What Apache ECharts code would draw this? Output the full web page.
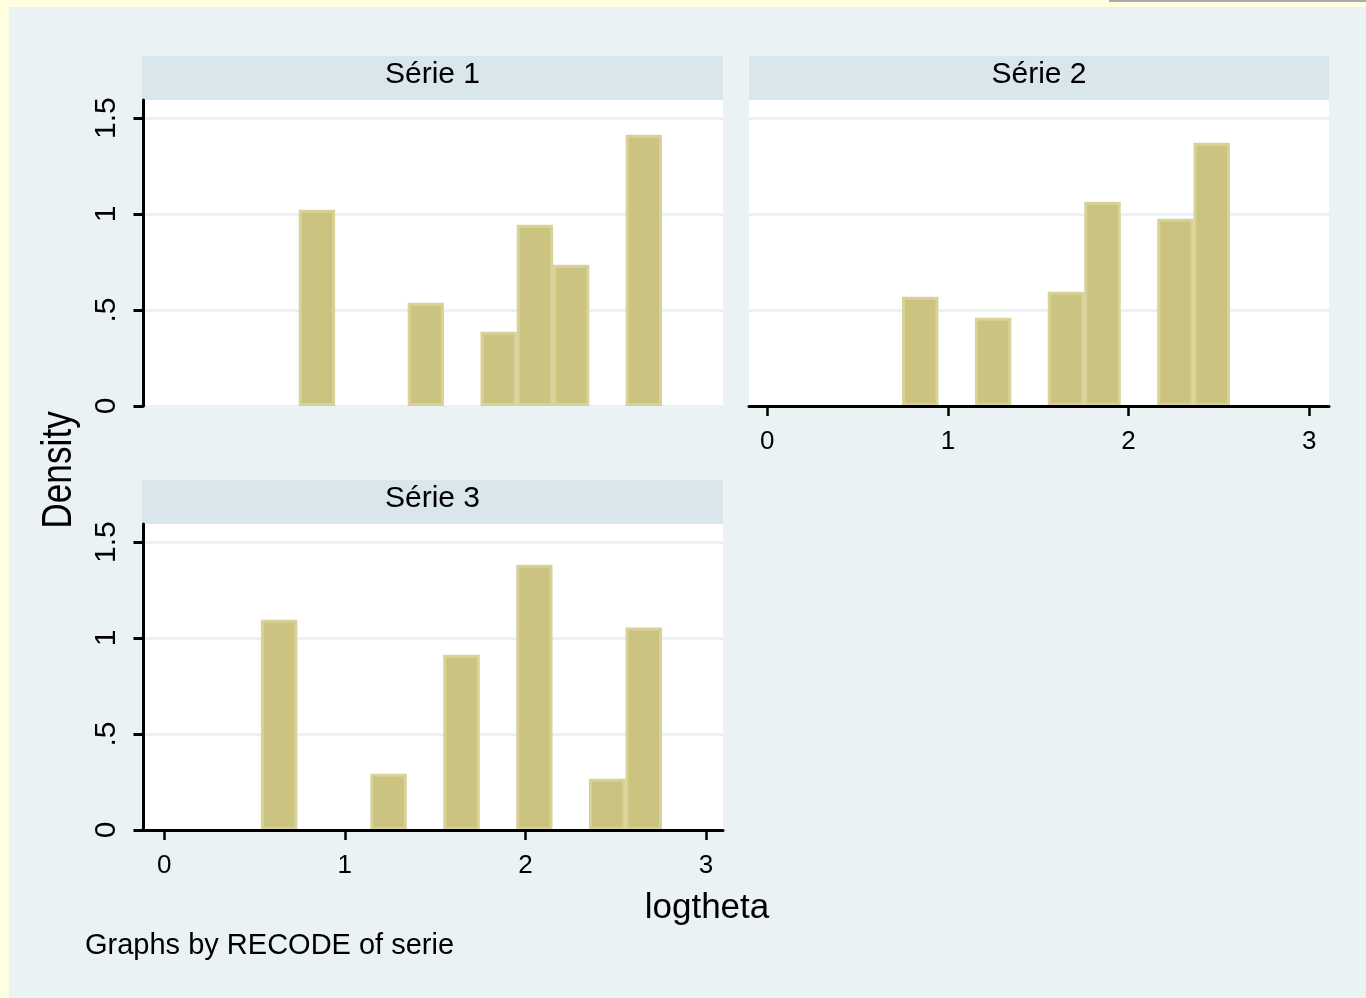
<!DOCTYPE html>
<html>
<head>
<meta charset="utf-8">
<script src="https://cdn.jsdelivr.net/npm/echarts@6/dist/echarts.min.js"></script>
<style>
html,body{margin:0;padding:0;background:#EAF2F3;}
#c{width:1366px;height:998px;}
</style>
</head>
<body>
<div id="c"></div>
<script>
// ---- data ----
const panelTitles = ['Série 1', 'Série 2', 'Série 3'];

// histogram bins (lower edge, upper edge, density) per series
const s1Lo  = [0.745, 1.348, 1.751, 1.952, 2.153, 2.555];
const s1Hi  = [0.946, 1.549, 1.952, 2.153, 2.354, 2.756];
const s1Den = [1.022, 0.538, 0.387, 0.944, 0.736, 1.413];

const s2Lo  = [0.746, 1.150, 1.553, 1.755, 2.159, 2.360];
const s2Hi  = [0.948, 1.351, 1.755, 1.957, 2.360, 2.562];
const s2Den = [0.569, 0.460, 0.595, 1.064, 0.975, 1.371];

const s3Lo  = [0.535, 1.141, 1.545, 1.949, 2.352, 2.554];
const s3Hi  = [0.737, 1.343, 1.747, 2.150, 2.554, 2.756];
const s3Den = [1.095, 0.293, 0.913, 1.382, 0.267, 1.055];

const yTicks = [0, 0.5, 1, 1.5];
const yTickLabels = ['0', '.5', '1', '1.5'];
const xTicks = [0, 1, 2, 3];
const xTickLabels = ['0', '1', '2', '3'];

const yTitle = 'Density';
const xTitle = 'logtheta';
const noteText = 'Graphs by RECODE of serie';

// ---- styling ----
const FONT = '"Liberation Sans", Arial, sans-serif';
const BG = '#EAF2F3';
const STRIP = '#D9E6EB';
const BAR_FILL = '#CBC480';
const BAR_LINE = '#D8D198';

const rows = (lo, hi, den) => lo.map((v, k) => [v, hi[k], den[k]]);
const seriesRows = [rows(s1Lo, s1Hi, s1Den), rows(s2Lo, s2Hi, s2Den), rows(s3Lo, s3Hi, s3Den)];

// panel boxes (layout)
const panels = [
  {left: 143.5, top: 100, width: 579.5, height: 306, xmin: -0.115, xmax: 3.094, showX: false, showY: true, stripLeft: 142, stripTop: 56, stripW: 581},
  {left: 749,   top: 100, width: 580,   height: 306, xmin: -0.101, xmax: 3.110, showX: true,  showY: false, stripLeft: 749, stripTop: 56, stripW: 580},
  {left: 143.5, top: 524, width: 579.5, height: 306, xmin: -0.115, xmax: 3.094, showX: true,  showY: true, stripLeft: 142, stripTop: 480, stripW: 581}
];

function renderBar(params, api) {
  const lo = api.value(0), hi = api.value(1), d = api.value(2);
  const a = api.coord([lo, d]);
  const b = api.coord([hi, 0]);
  const sw = 3;
  return {
    type: 'rect',
    shape: {x: a[0] + sw / 2, y: a[1] + sw / 2, width: b[0] - a[0] - sw, height: b[1] - a[1] - sw},
    style: {fill: BAR_FILL, stroke: BAR_LINE, lineWidth: sw}
  };
}

const yFmt = v => {
  const i = yTicks.findIndex(t => Math.abs(t - v) < 1e-9);
  return i >= 0 ? yTickLabels[i] : '';
};
const xFmt = v => {
  const i = xTicks.findIndex(t => Math.abs(t - v) < 1e-9);
  return i >= 0 ? xTickLabels[i] : '';
};

const grids = [], xAxes = [], yAxes = [], series = [], graphics = [];

panels.forEach((p, i) => {
  grids.push({left: p.left, top: p.top, width: p.width, height: p.height,
    show: true, backgroundColor: '#FFFFFF', borderWidth: 0});
  xAxes.push({
    gridIndex: i, type: 'value', min: p.xmin, max: p.xmax, z: 5,
    axisLine: {show: p.showX, onZero: false, lineStyle: {color: '#000', width: 3}},
    axisTick: {show: p.showX, length: 10, customValues: xTicks, lineStyle: {color: '#000', width: 2.5}},
    axisLabel: {show: p.showX, customValues: xTicks, formatter: xFmt, margin: 23,
      fontSize: 26, color: '#000', fontFamily: FONT},
    splitLine: {show: false}
  });
  yAxes.push({
    gridIndex: i, type: 'value', min: 0, max: 1.594, interval: 0.5,
    axisLine: {show: p.showY, onZero: false, lineStyle: {color: '#000', width: 3}},
    axisTick: {show: p.showY, length: 10, customValues: yTicks, lineStyle: {color: '#000', width: 3}},
    axisLabel: {show: p.showY, customValues: yTicks, formatter: yFmt, rotate: 90, margin: 22,
      fontSize: 30, color: '#000', fontFamily: FONT},
    splitLine: {show: true, lineStyle: {color: [BG, BG, BG, BG, 'rgba(0,0,0,0)'], width: 3}}
  });
  series.push({
    type: 'custom', xAxisIndex: i, yAxisIndex: i, data: seriesRows[i],
    encode: {x: [0, 1], y: 2}, renderItem: renderBar, clip: false, silent: true
  });
  graphics.push({type: 'rect', shape: {x: p.stripLeft, y: p.stripTop, width: p.stripW, height: 44},
    style: {fill: STRIP}, silent: true});
  graphics.push({type: 'text', x: p.stripLeft + p.stripW / 2, y: p.stripTop + 19,
    style: {text: panelTitles[i], font: '30px ' + FONT, fill: '#000', textAlign: 'center', textVerticalAlign: 'middle'},
    silent: true});
});

// outer light-yellow frame and small grey line (top right)
graphics.push({type: 'rect', shape: {x: 0, y: 0, width: 1366, height: 7}, style: {fill: '#FFFFE0'}, silent: true});
graphics.push({type: 'rect', shape: {x: 0, y: 0, width: 9, height: 998}, style: {fill: '#FFFFE0'}, silent: true});
graphics.push({type: 'rect', shape: {x: 1109, y: 0, width: 257, height: 2}, style: {fill: '#AAAAAA'}, silent: true});

// titles / note
graphics.push({type: 'text', x: 59, y: 470, rotation: Math.PI / 2, scaleX: 0.84,
  style: {text: yTitle, font: '42px ' + FONT, fill: '#000', textAlign: 'center', textVerticalAlign: 'middle'}, silent: true});
graphics.push({type: 'text', x: 707, y: 908.5,
  style: {text: xTitle, font: '35px ' + FONT, fill: '#000', textAlign: 'center', textVerticalAlign: 'middle'}, silent: true});
graphics.push({type: 'text', x: 85, y: 945.5,
  style: {text: noteText, font: '29px ' + FONT, fill: '#000', textAlign: 'left', textVerticalAlign: 'middle'}, silent: true});

const chart = echarts.init(document.getElementById('c'), null, {renderer: 'canvas'});
chart.setOption({
  backgroundColor: BG,
  animation: false,
  grid: grids,
  xAxis: xAxes,
  yAxis: yAxes,
  series: series,
  graphic: {elements: graphics}
});
</script>
</body>
</html>
